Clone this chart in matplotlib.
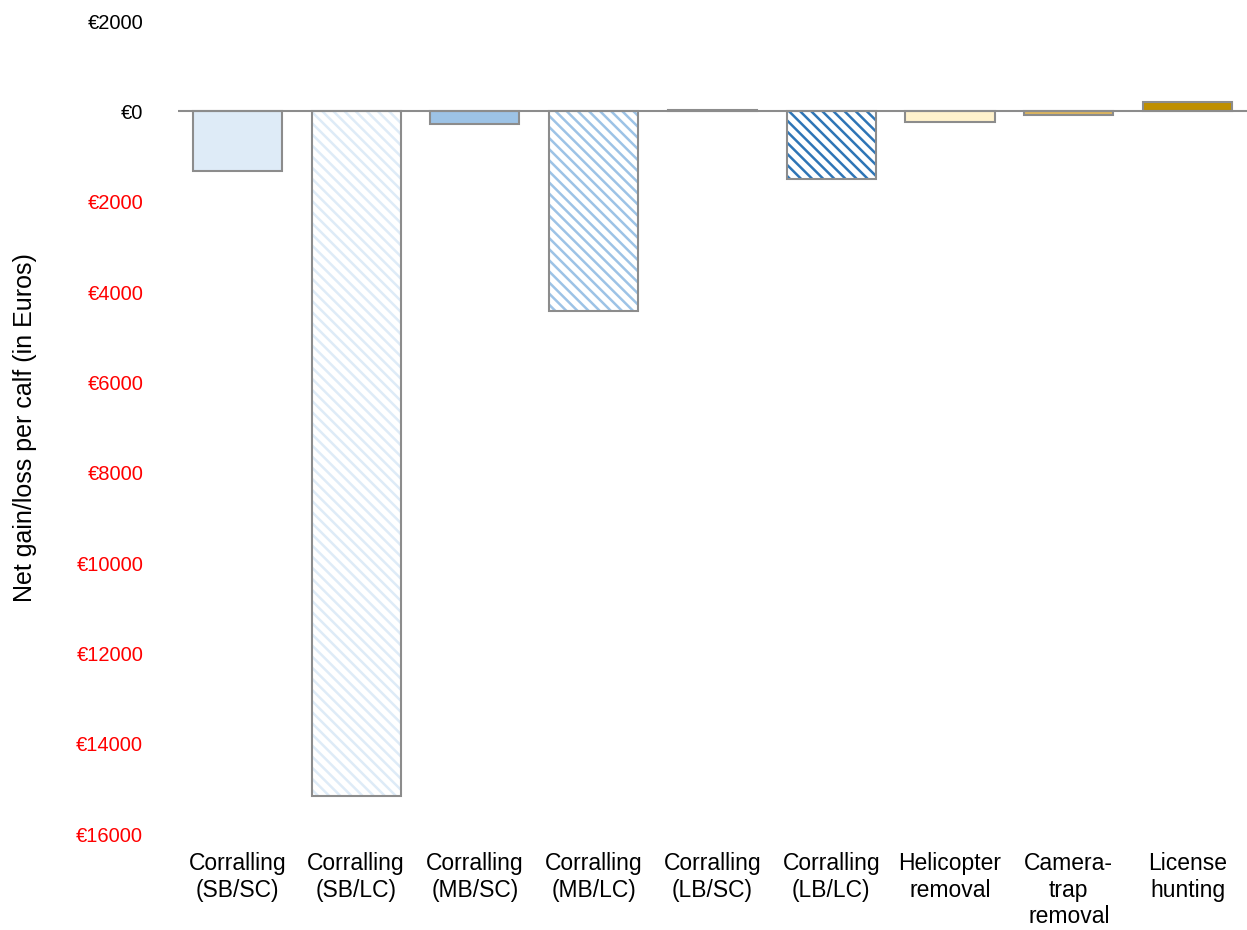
import numpy as np
import matplotlib as mpl
import matplotlib.pyplot as plt
from matplotlib.ticker import FuncFormatter

mpl.rcParams["font.family"] = ["Liberation Sans", "DejaVu Sans"]
mpl.rcParams["hatch.linewidth"] = 1.8

categories = [
    "Corralling\n(SB/SC)", "Corralling\n(SB/LC)", "Corralling\n(MB/SC)",
    "Corralling\n(MB/LC)", "Corralling\n(LB/SC)", "Corralling\n(LB/LC)",
    "Helicopter\nremoval", "Camera-\ntrap\nremoval", "License\nhunting",
]
values = [-1330, -15150, -270, -4410, 30, -1490, -240, -80, 200]
fills = ["#DEEBF7", "#DEEBF7", "#9DC3E6", "#9DC3E6", "#D9D9D9", "#2E75B6",
         "#FFF2CC", "#DDB55F", "#BF8F00"]
hatched = [False, True, False, True, False, True, False, False, False]
yticks = np.arange(-16000, 2001, 2000)

fig = plt.figure(figsize=(12.47, 9.30), dpi=100)
ax = fig.add_axes([0.1427, 0.1032, 0.8573, 0.8742])

x = np.arange(len(categories))
edge = "#8C8C8C"
for xi, v, c, h in zip(x, values, fills, hatched):
    if h:
        ax.bar(xi, v, width=0.75, color="white", edgecolor=c, hatch="\\\\\\", linewidth=0)
        ax.bar(xi, v, width=0.75, fill=False, edgecolor=edge, linewidth=1.5)
    else:
        ax.bar(xi, v, width=0.75, color=c, edgecolor=edge, linewidth=1.5)

ax.axhline(0, color=edge, linewidth=1.5, zorder=3)
ax.set_xlim(-0.5, len(categories) - 0.5)
ax.set_ylim(-16000, 2000)
ax.set_yticks(yticks)
ax.yaxis.set_major_formatter(FuncFormatter(lambda v, p: "€%d" % abs(v)))
for lab, v in zip(ax.get_yticklabels(), yticks):
    lab.set_color("red" if v < 0 else "black")

ax.set_xticks(x)
ax.set_xticklabels(categories, linespacing=1.2)
ax.tick_params(axis="both", length=0)
ax.tick_params(axis="y", pad=25, labelsize=14.5)
ax.tick_params(axis="x", pad=13, labelsize=16.5)
for s in ax.spines.values():
    s.set_visible(False)
ax.set_ylabel("Net gain/loss per calf (in Euros)", fontsize=18, labelpad=28)

plt.savefig("out.png", dpi=100)
